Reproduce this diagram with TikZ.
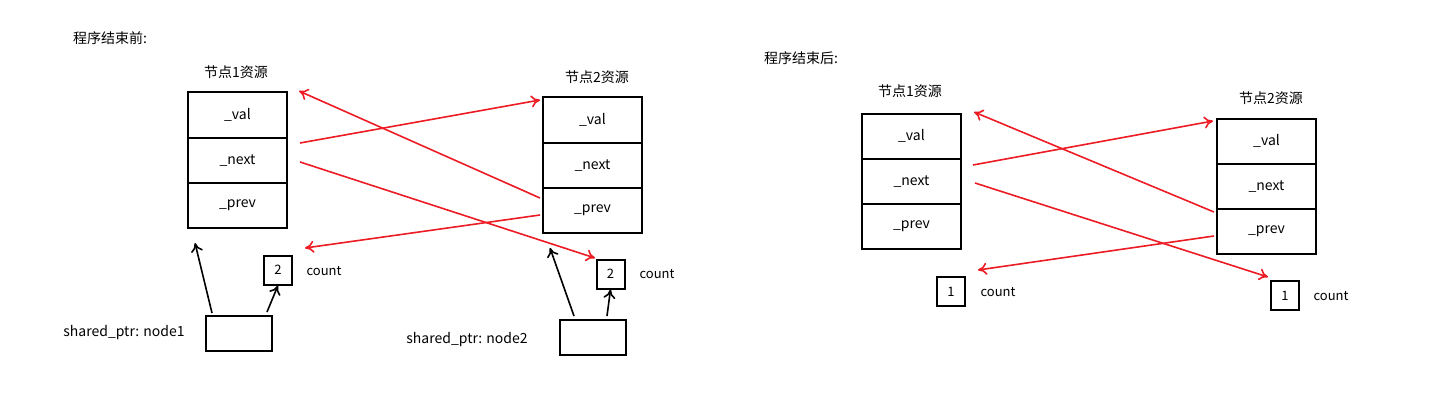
\documentclass[tikz,border=0pt]{standalone}
\usepackage{fontspec}
\usetikzlibrary{arrows.meta}
\setmainfont{Noto Sans CJK SC}
\definecolor{pr}{RGB}{237,28,36}
\begin{document}
\begin{tikzpicture}[x=1pt,y=-1pt,
 cell/.style={draw,line width=2pt,minimum width=99pt,minimum height=45pt,inner sep=0pt,font=\fontsize{14}{14}\selectfont},
 cbox/.style={draw,line width=2pt,minimum width=28pt,minimum height=29pt,inner sep=0pt,font=\fontsize{13}{13}\selectfont},
 pbox/.style={draw,line width=2pt,minimum width=66pt,minimum height=35pt,inner sep=0pt},
 txt/.style={font=\fontsize{14}{14}\selectfont,inner sep=0pt},
 stxt/.style={font=\fontsize{13}{13}\selectfont,inner sep=0pt},
 ra/.style={draw=pr,line width=1.6pt,-{To[length=9pt,width=12pt]}},
 ba/.style={draw=black,line width=1.6pt,-{To[length=9pt,width=12pt]}}]
\useasboundingbox (0,0) rectangle (1452,420);
% left
\node[txt] (t1) at (110,38) {程序结束前:};
\node[txt] (l1) at (236,72) {节点1资源};
\node[cell] (a1) at (237.5,115) {\_val};
\node[cell] (a2) at (237.5,160.5) {\_next};
\node[cell] (a3) at (237.5,205.5) {\_prev};
\node[txt] (l2) at (597,77) {节点2资源};
\node[cell] (b1) at (592.5,120) {\_val};
\node[cell] (b2) at (592.5,165.5) {\_next};
\node[cell] (b3) at (592.5,210.5) {\_prev};
\node[cbox] (c1) at (278,270) {2};
\node[stxt] (c1t) at (324,271) {count};
\node[cbox] (c2) at (610.5,274) {2};
\node[stxt] (c2t) at (657,274) {count};
\node[pbox] (p1) at (239,333.5) {};
\node[txt] (p1t) at (124,333) {shared\_ptr: node1};
\node[pbox] (p2) at (593,337.5) {};
\node[txt] (p2t) at (467,340) {shared\_ptr: node2};
\draw[ba] (p1.north west)++(7,-2) coordinate (q1) -- (195,243) coordinate (q2);
\draw[ba] (p1.north east)++(-6,-3) coordinate (q3) -- (c1.south);
\draw[ba] (p2.north west)++(15,-3) coordinate (q4) -- (550,248) coordinate (q5);
\draw[ba] (p2.north east)++(-20,-3) coordinate (q6) -- (c2.south);
\coordinate (r1s) at (300,143); \coordinate (r1e) at (540,100);
\coordinate (r2s) at (300,162); \coordinate (r2e) at (595,258);
\coordinate (r3s) at (540,198); \coordinate (r3e) at (299,91);
\coordinate (r4s) at (540,215); \coordinate (r4e) at (305,248);
\draw[ra] (r1s) -- (r1e); \draw[ra] (r2s) -- (r2e);
\draw[ra] (r3s) -- (r3e); \draw[ra] (r4s) -- (r4e);
% right
\node[txt] (t2) at (801,58) {程序结束后:};
\node[txt] (m1) at (910,91) {节点1资源};
\node[cell] (d1) at (911.5,136) {\_val};
\node[cell] (d2) at (911.5,181.5) {\_next};
\node[cell] (d3) at (911.5,226.5) {\_prev};
\node[txt] (m2) at (1271,98) {节点2资源};
\node[cell] (e1) at (1266.5,141) {\_val};
\node[cell] (e2) at (1266.5,186.5) {\_next};
\node[cell] (e3) at (1266.5,231.5) {\_prev};
\node[cbox] (f1) at (951,291.5) {1};
\node[stxt] (f1t) at (998,292) {count};
\node[cbox] (f2) at (1285,295.5) {1};
\node[stxt] (f2t) at (1331,296) {count};
\coordinate (s1s) at (973,165); \coordinate (s1e) at (1213,121);
\coordinate (s2s) at (975,183); \coordinate (s2e) at (1268,277);
\coordinate (s3s) at (1214,212); \coordinate (s3e) at (974,112);
\coordinate (s4s) at (1214,236); \coordinate (s4e) at (978,270);
\draw[ra] (s1s) -- (s1e); \draw[ra] (s2s) -- (s2e);
\draw[ra] (s3s) -- (s3e); \draw[ra] (s4s) -- (s4e);
\end{tikzpicture}
\end{document}
